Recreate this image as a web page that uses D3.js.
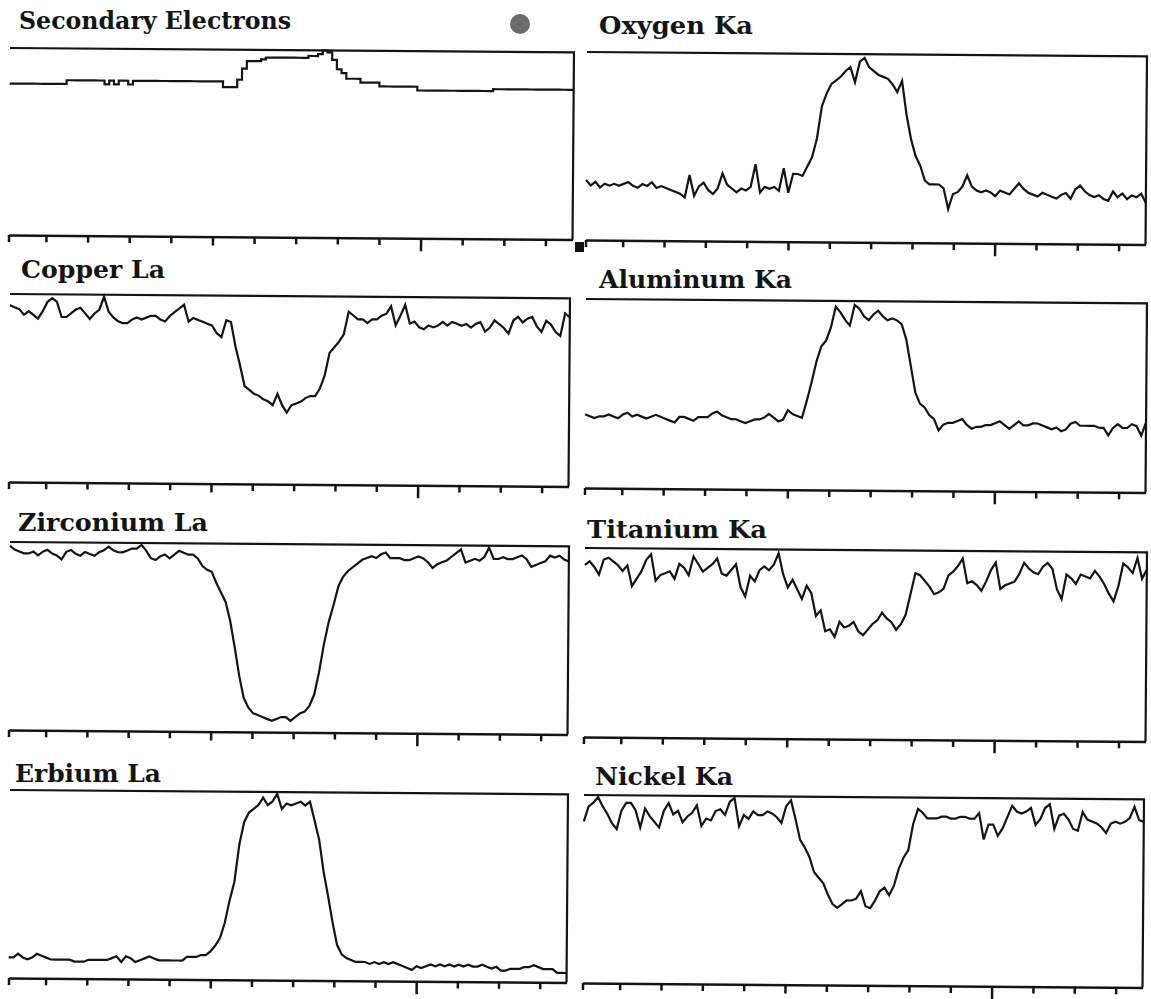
<!DOCTYPE html>
<html>
<head>
<meta charset="utf-8">
<style>
body { margin: 0; background: #fff; }
.trace { fill: none; stroke: #141414; stroke-width: 2.2; }
.frame { fill: none; stroke: #141414; stroke-width: 2.2; }
.axis path, .axis line { stroke: #141414; stroke-width: 2.5; }
.title { font-family: "DejaVu Serif", serif; font-weight: bold; font-size: 25px; fill: #141414; }
</style>
</head>
<body>
<script src="https://d3js.org/d3.v7.min.js"></script>
<script>
var width = 1151, height = 999;

var titles = ["Secondary Electrons", "Copper La", "Zirconium La", "Erbium La",
  "Oxygen Ka", "Aluminum Ka", "Titanium Ka", "Nickel Ka"];

// tick positions along the line scan, 1 = left end of the scan
var xTicks = [1, 10, 20, 30, 40, 50, 60, 70, 80, 90, 100, 110, 120, 130];

// signal, % of the panel height, sampled evenly along the scan
var secondaryElectrons = [
  81, 81, 81, 81, 81, 81, 81, 81, 81, 81,
  81, 81, 83, 83, 83, 83, 83, 83, 83, 83,
  81, 83, 81, 83, 83, 81, 83, 83, 83, 83,
  83, 83, 83, 83, 83, 83, 83, 83, 83, 83,
  83, 83, 83, 83, 83, 80, 80, 80, 84, 90,
  94, 94, 94, 95, 96, 96, 96, 96, 96, 96,
  96, 96, 96, 97, 97, 98, 100, 99, 95, 90,
  88, 85, 85, 85, 83, 83, 83, 83, 81, 81,
  81, 81, 81, 81, 81, 81, 79, 79, 79, 79,
  79, 79, 79, 79, 79, 79, 79, 79, 79, 79,
  79, 79, 80, 80, 80, 80, 80, 80, 80, 80,
  80, 80, 80, 80, 80, 80, 80, 80, 80, 80];

var copperLa = [
  94, 93, 92, 89, 91, 89, 87, 91, 96, 98,
  96, 88, 88, 90, 92, 93, 90, 87, 90, 92,
  99, 91, 88, 86, 85, 85, 87, 88, 87, 88,
  89, 89, 87, 86, 89, 91, 93, 95, 86, 88,
  87, 86, 85, 84, 80, 78, 87, 86, 73, 63,
  52, 50, 48, 47, 45, 44, 42, 48, 42, 38,
  42, 43, 44, 46, 47, 47, 51, 58, 70, 73,
  76, 80, 92, 90, 88, 88, 86, 88, 88, 90,
  91, 95, 85, 90, 96, 86, 87, 84, 83, 85,
  84, 85, 87, 85, 87, 86, 85, 86, 84, 86,
  87, 82, 84, 88, 86, 84, 81, 88, 90, 87,
  89, 90, 85, 82, 88, 86, 82, 80, 92, 90];

var zirconiumLa = [
  98, 96, 95, 94, 94, 95, 93, 95, 96, 94,
  93, 91, 95, 96, 94, 93, 95, 94, 93, 95,
  96, 98, 96, 95, 95, 96, 97, 97, 99, 96,
  92, 91, 93, 94, 92, 94, 96, 95, 94, 94,
  92, 88, 86, 85, 79, 74, 69, 59, 45, 30,
  18, 13, 10, 9, 8, 7, 6, 7, 8, 8,
  6, 8, 10, 11, 14, 20, 32, 47, 59, 68,
  78, 83, 86, 88, 90, 92, 93, 94, 93, 95,
  96, 93, 93, 93, 92, 92, 93, 94, 93, 91,
  88, 90, 91, 92, 94, 96, 98, 91, 92, 93,
  92, 94, 99, 93, 93, 94, 93, 93, 94, 95,
  93, 89, 90, 91, 92, 95, 94, 95, 93, 92];

var erbiumLa = [
  11, 11, 13, 11, 10, 11, 13, 12, 11, 10,
  10, 10, 10, 10, 9, 9, 9, 10, 10, 10,
  10, 10, 11, 12, 9, 12, 11, 9, 10, 11,
  12, 11, 10, 10, 10, 10, 10, 10, 12, 12,
  12, 13, 13, 15, 18, 22, 30, 42, 52, 72,
  84, 89, 91, 93, 97, 93, 95, 99, 91, 94,
  93, 94, 95, 93, 95, 85, 75, 58, 45, 31,
  19, 14, 12, 11, 10, 10, 10, 9, 10, 9,
  10, 9, 10, 9, 8, 7, 6, 8, 7, 8,
  9, 8, 9, 8, 9, 8, 9, 8, 9, 8,
  8, 9, 8, 7, 8, 6, 6, 7, 7, 7,
  8, 8, 9, 8, 7, 7, 7, 5, 5, 5];

var oxygenKa = [
  32, 29, 31, 28, 30, 29, 30, 29, 30, 31,
  29, 28, 30, 29, 31, 28, 29, 28, 27, 26,
  25, 23, 35, 24, 29, 31, 27, 25, 28, 36,
  30, 28, 26, 28, 27, 29, 41, 26, 29, 28,
  29, 27, 39, 26, 36, 36, 35, 40, 45, 55,
  72, 79, 84, 86, 88, 91, 93, 85, 96, 98,
  93, 91, 89, 88, 87, 84, 80, 86, 68, 55,
  46, 41, 33, 31, 31, 31, 29, 18, 26, 27,
  30, 36, 30, 28, 27, 28, 27, 25, 28, 27,
  26, 29, 32, 29, 27, 26, 25, 27, 26, 25,
  24, 26, 27, 24, 29, 31, 28, 26, 25, 26,
  24, 23, 28, 25, 27, 24, 26, 25, 27, 22];

var aluminumKa = [
  39, 38, 37, 38, 38, 39, 38, 37, 39, 40,
  38, 39, 38, 37, 38, 39, 38, 37, 36, 35,
  38, 38, 37, 36, 38, 38, 38, 40, 41, 39,
  38, 37, 37, 36, 35, 36, 37, 37, 38, 40,
  38, 36, 37, 42, 40, 39, 38, 47, 57, 68,
  76, 79, 86, 97, 94, 90, 87, 98, 96, 92,
  90, 93, 95, 92, 90, 91, 90, 88, 80, 66,
  52, 46, 44, 40, 38, 32, 35, 36, 36, 37,
  38, 35, 33, 34, 34, 35, 35, 36, 37, 35,
  33, 35, 37, 35, 35, 36, 36, 35, 34, 33,
  34, 32, 33, 36, 37, 35, 35, 35, 35, 34,
  34, 30, 34, 36, 34, 34, 36, 35, 30, 37];

var titaniumKa = [
  91, 93, 90, 86, 94, 95, 93, 91, 88, 91,
  80, 84, 88, 94, 97, 83, 86, 87, 88, 84,
  92, 90, 86, 96, 92, 88, 90, 92, 95, 87,
  86, 89, 92, 80, 75, 86, 83, 89, 91, 89,
  92, 98, 87, 80, 84, 79, 74, 81, 77, 65,
  68, 57, 58, 54, 62, 59, 60, 62, 57, 55,
  58, 61, 63, 67, 64, 62, 58, 61, 66, 77,
  88, 87, 84, 81, 77, 78, 80, 87, 89, 92,
  96, 83, 84, 82, 79, 84, 90, 94, 80, 82,
  83, 84, 88, 94, 91, 89, 88, 92, 94, 91,
  80, 75, 88, 86, 83, 88, 87, 86, 90, 87,
  83, 78, 74, 82, 94, 92, 89, 97, 86, 91];

var nickelKa = [
  86, 94, 96, 99, 94, 90, 85, 82, 92, 96,
  96, 92, 83, 93, 89, 86, 83, 92, 96, 90,
  92, 86, 89, 91, 95, 84, 88, 87, 92, 93,
  90, 97, 99, 84, 90, 88, 92, 90, 90, 92,
  91, 89, 86, 95, 98, 88, 77, 73, 68, 60,
  57, 54, 48, 43, 41, 43, 45, 45, 46, 50,
  42, 41, 45, 50, 52, 48, 53, 62, 68, 72,
  86, 94, 92, 89, 89, 89, 90, 90, 89, 89,
  90, 90, 89, 89, 92, 78, 86, 86, 80, 84,
  90, 96, 93, 92, 93, 95, 86, 89, 95, 97,
  84, 91, 92, 89, 84, 83, 93, 89, 88, 87,
  85, 82, 87, 88, 87, 88, 90, 96, 89, 88];

var seriesList = [secondaryElectrons, copperLa, zirconiumLa, erbiumLa,
  oxygenKa, aluminumKa, titaniumKa, nickelKa];

// panel boxes (left edge top/bottom) and title placement
var panels = [
  {x0: 10, x1: 574, top: 48, bottom: 235, tx: 19, ty: 29, tw: 272},
  {x0: 10, x1: 570, top: 294, bottom: 482, tx: 21, ty: 278, tw: 144},
  {x0: 10, x1: 569, top: 542, bottom: 730, tx: 18, ty: 531, tw: 190},
  {x0: 10, x1: 568, top: 790, bottom: 978, tx: 15, ty: 782, tw: 146},
  {x0: 587, x1: 1147, top: 52, bottom: 240, tx: 599, ty: 34, tw: 154},
  {x0: 586, x1: 1147, top: 299, bottom: 488, tx: 599, ty: 288, tw: 193},
  {x0: 585, x1: 1147, top: 548, bottom: 737, tx: 587, ty: 538, tw: 180},
  {x0: 584, x1: 1144, top: 795, bottom: 983, tx: 595, ty: 785, tw: 138}
];

var tilt = 0.45; // the scanned page is slightly rotated

var svg = d3.select("body").append("svg")
  .attr("width", width)
  .attr("height", height);

panels.forEach(function(p, k) {
  var values = seriesList[k];
  var x = d3.scaleLinear().domain([1, 136.5]).range([p.x0, p.x1]);
  var y = d3.scaleLinear().domain([0, 100]).range([p.bottom, p.top]);
  var step = (136.5 - 1) / (values.length - 1);

  var g = svg.append("g")
    .attr("transform", "rotate(" + tilt + "," + p.x0 + "," + p.top + ")");

  g.append("path")
    .attr("class", "frame")
    .attr("d", "M" + x.range()[0] + "," + y(100) + "H" + x.range()[1] + "V" + y(0));

  var axis = d3.axisBottom(x)
    .tickValues(xTicks)
    .tickSize(7)
    .tickSizeOuter(0)
    .tickFormat("");

  var ax = g.append("g")
    .attr("class", "axis")
    .attr("transform", "translate(0," + y(0) + ")")
    .call(axis);

  ax.selectAll(".tick line")
    .attr("y2", function(d) { return d === 100 ? 13 : (d === 50 ? 9 : 7); });

  var line = d3.line()
    .x(function(d, i) { return x(1 + i * step); })
    .y(function(d) { return y(d); })
    .curve(k === 0 ? d3.curveStepAfter : d3.curveLinear);

  g.append("path")
    .datum(values)
    .attr("class", "trace")
    .attr("d", line);

  svg.append("text")
    .attr("class", "title")
    .attr("x", p.tx)
    .attr("y", p.ty)
    .attr("textLength", p.tw)
    .attr("lengthAdjust", "spacingAndGlyphs")
    .text(titles[k]);
});

// marks that are on the scanned page
svg.append("circle")
  .attr("cx", 520)
  .attr("cy", 24)
  .attr("r", 10)
  .style("fill", "#6b6b6b");

svg.append("rect")
  .attr("x", 575)
  .attr("y", 242)
  .attr("width", 9)
  .attr("height", 10)
  .style("fill", "#111");
</script>
</body>
</html>
